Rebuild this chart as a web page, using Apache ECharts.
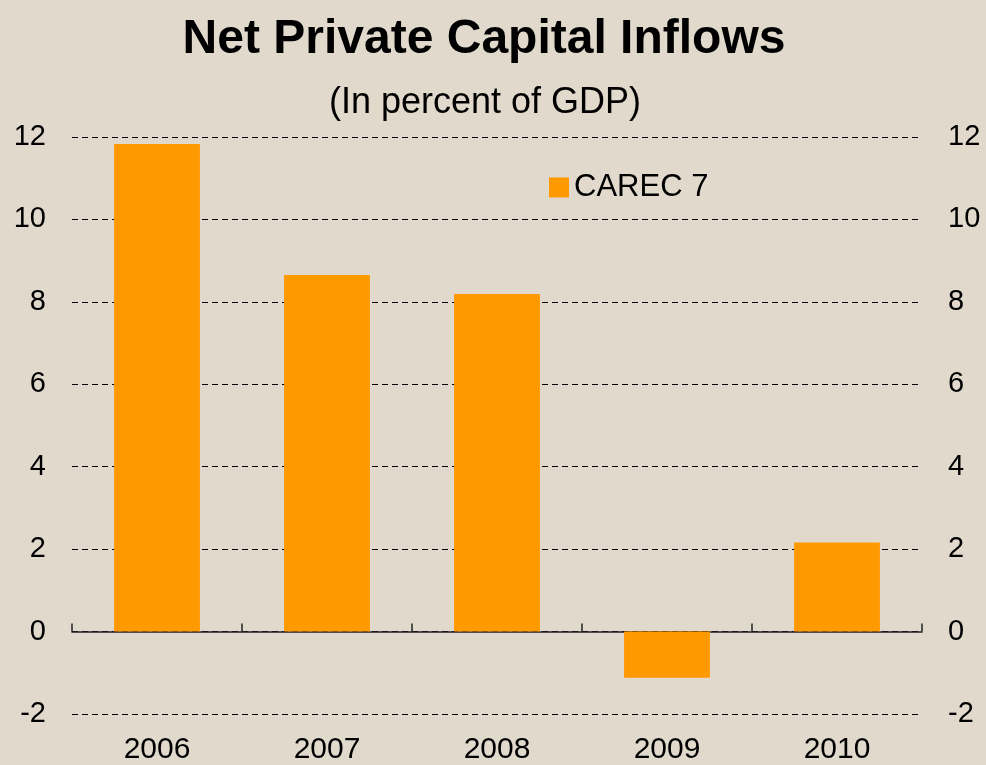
<!DOCTYPE html>
<html>
<head>
<meta charset="utf-8">
<script src="https://cdn.jsdelivr.net/npm/echarts@6/dist/echarts.min.js"></script>
<style>
html,body{margin:0;padding:0;background:#e0d9cc;}
#c{width:986px;height:765px;}
</style>
</head>
<body>
<div id="c"></div>
<script>
const categories = ['2006','2007','2008','2009','2010'];
const carec7 = [11.83, 8.65, 8.19, -1.12, 2.16];
const yTicks = {min: -2, max: 12, interval: 2};
const seriesName = 'CAREC 7';

const chart = echarts.init(document.getElementById('c'));
const font = 'Liberation Sans, Arial, sans-serif';
const yAxisCommon = {
  type: 'value', min: yTicks.min, max: yTicks.max, interval: yTicks.interval,
  axisLine: {show: false}, axisTick: {show: false},
  axisLabel: {color: '#000', fontSize: 29, fontFamily: font, margin: 26}
};
chart.setOption({
  backgroundColor: '#e0d9cc',
  animation: false,
  title: [
    {text: 'Net Private Capital Inflows', left: 479, top: 11, textAlign: 'center',
     textStyle: {fontSize: 48, fontWeight: 'bold', color: '#000', fontFamily: font}},
    {text: '(In percent of GDP)', left: 480, top: 80, textAlign: 'center',
     textStyle: {fontSize: 36, fontWeight: 'normal', color: '#000', fontFamily: font}}
  ],
  legend: {
    data: [{name: seriesName, icon: 'rect'}], left: 544, top: 167, itemWidth: 20, itemHeight: 20, itemGap: 8,
    textStyle: {fontSize: 31, color: '#000', fontFamily: font}
  },
  grid: {left: 72, right: 64, top: 137, bottom: 51, containLabel: false},
  xAxis: [
    {type: 'category', data: categories, position: 'bottom',
     axisLine: {onZero: true, lineStyle: {color: '#222', width: 1.5}},
     axisTick: {show: true, inside: true, length: 8, lineStyle: {color: '#222', width: 1.5}},
     axisLabel: {show: false}, splitLine: {show: false}},
    {type: 'category', data: categories, position: 'bottom', gridIndex: 0,
     axisLine: {show: false, onZero: false}, axisTick: {show: false},
     axisLabel: {color: '#000', fontSize: 30, fontFamily: font, margin: 21}}
  ],
  yAxis: [
    Object.assign({}, yAxisCommon, {position: 'left',
      splitLine: {show: true, lineStyle: {color: '#000', type: [6, 4], width: 1}}}),
    Object.assign({}, yAxisCommon, {position: 'right', splitLine: {show: false}})
  ],
  series: [{
    name: seriesName, type: 'bar', data: carec7, barWidth: '50.5%',
    itemStyle: {color: '#ff9900'}, xAxisIndex: 0, yAxisIndex: 0
  }]
});
</script>
</body>
</html>
